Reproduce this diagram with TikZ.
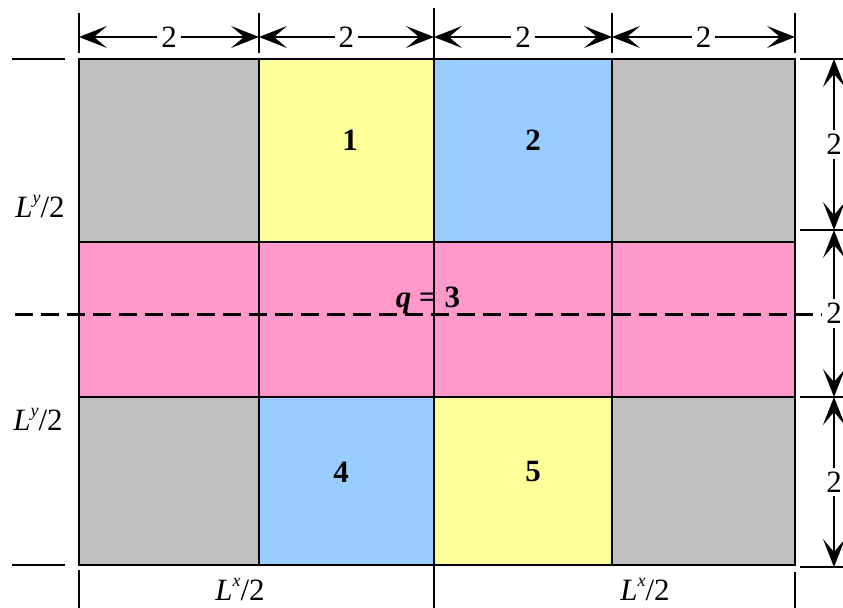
\documentclass[tikz,border=0pt]{standalone}
\usepackage{fontspec}
\setmainfont{Liberation Serif}
\usetikzlibrary{arrows.meta}
\definecolor{cellgray}{HTML}{C0C0C0}
\definecolor{cellyellow}{HTML}{FFFF99}
\definecolor{cellblue}{HTML}{99CCFF}
\definecolor{cellpink}{HTML}{FF99CC}
\newcommand{\halfL}[1]{\textit{L}\raisebox{0.45em}{\fontsize{9}{10}\selectfont\textit{#1}}/2}
\tikzset{
  dimarrow/.style={{Stealth[length=14pt,width=11pt,inset=6.5pt]}-{Stealth[length=14pt,width=11pt,inset=6.5pt]},line width=0.7pt},
  dimlabel/.style={fill=white,inner sep=2pt},
  cell/.style={draw=black,line width=1pt},
  tick/.style={line width=0.9pt}
}
\begin{document}
\begin{tikzpicture}[x=0.5pt,y=-0.5pt,font=\fontsize{15.5}{17}\selectfont]
\useasboundingbox (0,0) rectangle (843,608);
\foreach \xa/\xb/\ya/\yb/\col in {79/259/59/242/cellgray, 259/434/59/242/cellyellow,
    434/612/59/242/cellblue, 612/795/59/242/cellgray,
    79/259/242/397/cellpink, 259/434/242/397/cellpink, 434/612/242/397/cellpink, 612/795/242/397/cellpink,
    79/259/397/565/cellgray, 259/434/397/565/cellblue, 434/612/397/565/cellyellow, 612/795/397/565/cellgray}{
    \filldraw[cell,fill=\col] (\xa,\ya) rectangle (\xb,\yb);
}
\node[font=\fontsize{15.5}{17}\selectfont\bfseries] (n1) at (350,140) {1};
\node[font=\fontsize{15.5}{17}\selectfont\bfseries] (n2) at (533,140) {2};
\node[font=\fontsize{15.5}{17}\selectfont\bfseries] (n4) at (341,472) {4};
\node[font=\fontsize{15.5}{17}\selectfont\bfseries] (n5) at (533,472) {5};
\draw[line width=1.5pt,dash pattern=on 9pt off 4pt] (15,315) -- (843,315);
\node[font=\fontsize{15.5}{17}\selectfont\bfseries] (q) at (428,301) {\textit{q} = 3};
\draw[tick] (12,59) -- (65,59);
\draw[tick] (12,565) -- (65,565);
\foreach \x in {79,259,612,795}{
    \draw[tick] (\x,13) -- (\x,53);
}
\draw[tick] (434,8) -- (434,60);
\foreach \xa/\xb in {79/259,259/434,434/612,612/795}{
    \draw[dimarrow] (\xa,37) -- node[dimlabel]{2} (\xb,37);
}
\foreach \y in {59,230,397,567}{
    \draw[tick] (800,\y) -- (843,\y);
}
\foreach \ya/\yb in {59/230,230/397,397/567}{
    \draw[dimarrow] (834,\ya) -- node[dimlabel]{2} (834,\yb);
}
\draw[tick] (79,570) -- (79,608);
\draw[tick] (434,565) -- (434,608);
\draw[tick] (795,572) -- (795,608);
\node (ly1) at (40,207) {\halfL{y}};
\node (ly2) at (38,420) {\halfL{y}};
\node (lx1) at (240,590) {\halfL{x}};
\node (lx2) at (645,590) {\halfL{x}};
\end{tikzpicture}
\end{document}
